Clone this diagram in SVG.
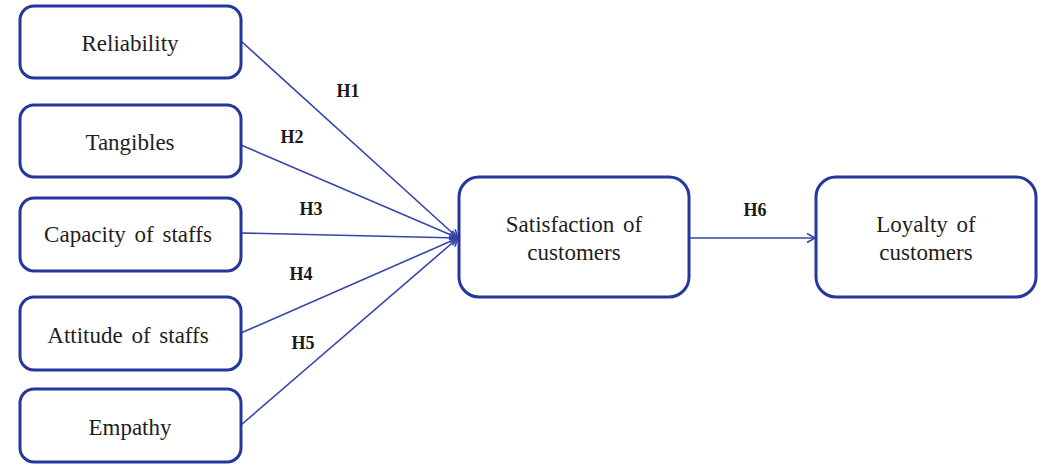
<svg xmlns="http://www.w3.org/2000/svg" width="1048" height="467" viewBox="0 0 1048 467">
  <style>
    .box { fill: #ffffff; stroke: #24379a; stroke-width: 3; }
    .label { font-family: "Liberation Serif", "Times New Roman", serif; font-size: 23px; fill: #1e1e1e; text-anchor: middle; word-spacing: 3px; }
    .hyp { font-family: "Liberation Serif", "Times New Roman", serif; font-size: 18px; font-weight: bold; fill: #1a1a1a; text-anchor: middle; }
    .link { stroke: #3646a8; stroke-width: 1.6; fill: none; marker-end: url(#arrow); }
  </style>
  <defs>
    <marker id="arrow" markerWidth="12" markerHeight="12" refX="10" refY="6" orient="auto" markerUnits="userSpaceOnUse">
      <path d="M2,1.5 L10,6 L2,10.5" fill="none" stroke="#3646a8" stroke-width="1.6"/>
    </marker>
  </defs>
  <rect width="1048" height="467" fill="#ffffff"/>

  <!-- connectors -->
  <g id="connectors">
    <line class="link" x1="241" y1="41" x2="458" y2="238"/>
    <line class="link" x1="241" y1="145" x2="458" y2="238"/>
    <line class="link" x1="241" y1="233" x2="458" y2="238"/>
    <line class="link" x1="241" y1="333" x2="458" y2="238"/>
    <line class="link" x1="241" y1="425" x2="458" y2="238"/>
    <line class="link" x1="689" y1="238" x2="815" y2="238"/>
    <text class="hyp" x="348" y="97">H1</text>
    <text class="hyp" x="292" y="143">H2</text>
    <text class="hyp" x="311" y="215">H3</text>
    <text class="hyp" x="301" y="280">H4</text>
    <text class="hyp" x="303" y="349">H5</text>
    <text class="hyp" x="755" y="216">H6</text>
  </g>

  <!-- factor nodes -->
  <g id="reliability">
    <rect class="box" x="20" y="6" width="221" height="72" rx="14"/>
    <text class="label" x="130" y="51">Reliability</text>
  </g>
  <g id="tangibles">
    <rect class="box" x="20" y="105" width="221" height="72" rx="14"/>
    <text class="label" x="130" y="150">Tangibles</text>
  </g>
  <g id="capacity">
    <rect class="box" x="20" y="198" width="221" height="73" rx="14"/>
    <text class="label" x="128" y="242">Capacity of staffs</text>
  </g>
  <g id="attitude">
    <rect class="box" x="20" y="297" width="221" height="73" rx="14"/>
    <text class="label" x="128" y="343">Attitude of staffs</text>
  </g>
  <g id="empathy">
    <rect class="box" x="20" y="389" width="221" height="73" rx="14"/>
    <text class="label" x="130" y="435">Empathy</text>
  </g>

  <!-- outcome nodes -->
  <g id="satisfaction">
    <rect class="box" x="459" y="177" width="230" height="120" rx="20"/>
    <text class="label" x="574" y="232">Satisfaction of</text>
    <text class="label" x="574" y="260">customers</text>
  </g>
  <g id="loyalty">
    <rect class="box" x="816" y="177" width="220" height="120" rx="20"/>
    <text class="label" x="926" y="232">Loyalty of</text>
    <text class="label" x="926" y="260">customers</text>
  </g>
</svg>
